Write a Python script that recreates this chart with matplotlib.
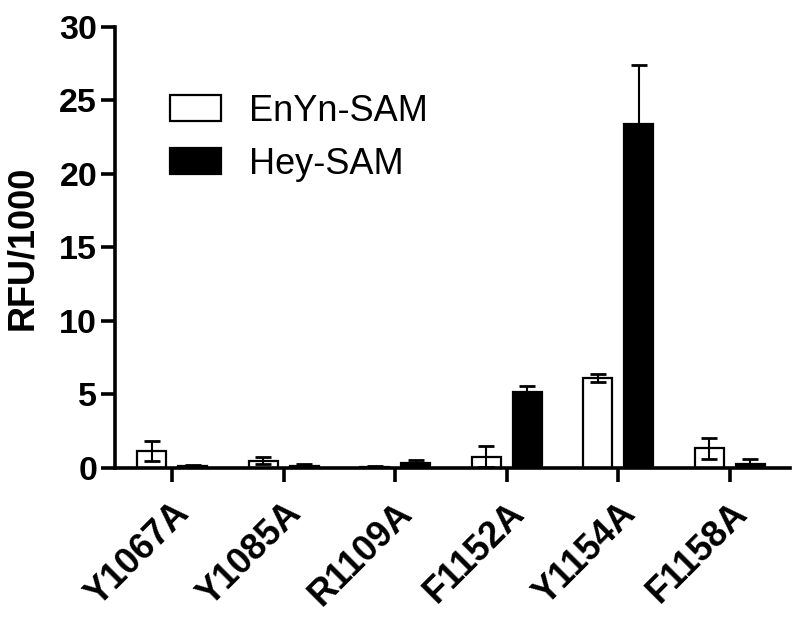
import matplotlib
matplotlib.use("Agg")
import matplotlib.pyplot as plt
import numpy as np

categories = ["Y1067A", "Y1085A", "R1109A", "F1152A", "Y1154A", "F1158A"]
enyn_vals = [1.15, 0.50, 0.10, 0.77, 6.10, 1.35]
enyn_err = [0.70, 0.22, 0.05, 0.72, 0.28, 0.72]
hey_vals = [0.15, 0.15, 0.35, 5.20, 23.40, 0.30]
hey_err = [0.05, 0.15, 0.22, 0.40, 4.00, 0.33]
series_labels = ["EnYn-SAM", "Hey-SAM"]
yticks = [0, 5, 10, 15, 20, 25, 30]

plt.rcParams['font.family'] = ['Liberation Sans', 'DejaVu Sans']

fig = plt.figure(figsize=(8.0, 6.22), dpi=100)
ax = fig.add_axes([0.144, 0.2476, 0.8435, 0.709])

x = np.arange(len(categories))
off = 0.184
w = 0.26
lw = 1.6

ax.bar(x - off, enyn_vals, w, facecolor='white', edgecolor='black', linewidth=lw,
       label=series_labels[0], zorder=2)
ax.bar(x + off, hey_vals, w, facecolor='black', edgecolor='black', linewidth=lw,
       label=series_labels[1], zorder=2)
ax.errorbar(x - off, enyn_vals, yerr=enyn_err, fmt='none', ecolor='black',
            elinewidth=1.5, capsize=5.5, capthick=2.0, zorder=3)
ax.errorbar(x + off, hey_vals, yerr=hey_err, fmt='none', ecolor='black',
            elinewidth=1.5, capsize=5.5, capthick=2.0, zorder=1)

ax.set_xlim(-0.51, 5.54)
ax.set_ylim(0, 30)
ax.set_yticks(yticks)
ax.set_yticklabels([str(v) for v in yticks], fontsize=24.5, fontweight='bold')
ax.set_xticks(x)
ax.set_xticklabels(categories, fontsize=26, fontweight='bold', rotation=45,
                   ha='right', va='top', rotation_mode='anchor')
ax.set_ylabel("RFU/1000", fontsize=26, fontweight='bold', labelpad=14)

for s in ['top', 'right']:
    ax.spines[s].set_visible(False)
for s in ['left', 'bottom']:
    ax.spines[s].set_linewidth(2.6)
ax.tick_params(axis='both', width=2.6, length=10, direction='out')
ax.tick_params(axis='y', pad=3)
ax.tick_params(axis='x', pad=10)

leg = ax.legend(loc='upper left', bbox_to_anchor=(170/800, 1 - 94/622),
                bbox_transform=fig.transFigure, frameon=False, fontsize=26,
                handlelength=1.4, handleheight=0.73, handletextpad=0.8,
                labelspacing=0.5, borderpad=0, borderaxespad=0)

fig.savefig("out.png", dpi=100)
